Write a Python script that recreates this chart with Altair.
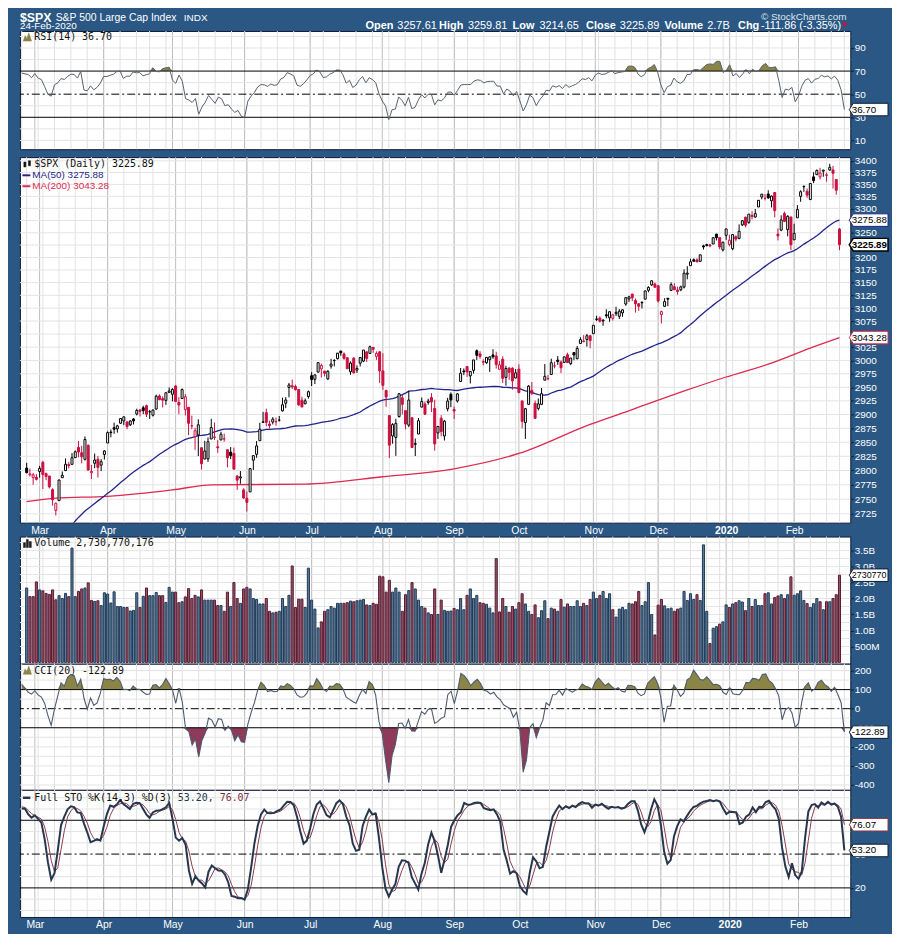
import altair as alt
import numpy as np
import pandas as pd

# ---------------- data ----------------
# closes before the visible window (3 Dec 2018 - 24 Jan 2019): warm-up for MA(50) / RSI
early_close = [2790.37, 2700.06, 2695.95, 2633.08, 2637.72, 2636.78, 2651.07, 2650.54, 2599.95, 2545.94,
               2546.16, 2506.96, 2467.42, 2416.62, 2351.10, 2467.70, 2488.83, 2485.74, 2506.85,
               2510.03, 2447.89, 2531.94, 2549.69, 2574.41, 2584.96, 2596.64, 2596.26, 2582.61, 2610.30,
               2616.10, 2635.96, 2670.71, 2632.90, 2638.70, 2642.33]
# 25 Jan - 22 Feb 2019: warm-up for CCI / STO
pre_high = [2672.4, 2644.9, 2650.9, 2690.4, 2708.9, 2716.7, 2724.99, 2738.98, 2738.1, 2719.3,
            2708.1, 2718.1, 2748.2, 2761.9, 2757.9, 2775.7, 2787.3, 2789.9, 2785.4, 2794.2]
pre_low = [2657.3, 2624.1, 2631.1, 2648.3, 2678.7, 2696.9, 2698.8, 2724.0, 2724.2, 2687.3,
           2681.8, 2703.9, 2722.6, 2748.6, 2731.2, 2760.2, 2767.3, 2774.1, 2767.8, 2779.1]
pre_close = [2664.76, 2643.85, 2640.00, 2681.05, 2704.10, 2706.53, 2724.87, 2737.70, 2731.61, 2706.05,
             2707.88, 2709.80, 2744.73, 2753.03, 2745.73, 2775.60, 2779.76, 2784.70, 2774.88, 2792.67]

# visible window: 25 Feb 2019 - 24 Feb 2020 (252 sessions)
opens = [
    2804.35, 2792.36, 2787.50, 2788.11,
    2798.22, 2814.37, 2794.41, 2790.27, 2766.53, 2730.79, 2747.61, 2787.34, 2799.78, 2810.38, 2810.79, 2822.61, 2840.76, 2831.34, 2819.72, 2844.52, 2796.01, 2812.66, 2819.72, 2809.40, 2828.27,
    2848.63, 2868.24, 2876.09, 2873.99, 2884.16, 2888.46, 2886.58, 2881.37, 2891.92, 2900.86, 2908.32, 2912.26, 2916.04, 2904.81, 2898.78, 2909.99, 2934.00, 2928.99, 2925.81, 2940.58, 2937.14,
    2952.33, 2922.16, 2929.21, 2908.89, 2913.03, 2879.61, 2859.84, 2863.10, 2840.19, 2820.12, 2820.38, 2855.80, 2858.60, 2841.94, 2854.02, 2856.06, 2836.70, 2832.41, 2830.03, 2790.25, 2786.94, 2766.15,
    2751.53, 2762.64, 2818.09, 2828.51, 2852.87, 2885.83, 2903.27, 2882.73, 2886.24, 2886.82, 2889.75, 2906.71, 2920.55, 2949.60, 2952.71, 2951.42, 2945.78, 2926.07, 2919.66, 2932.94,
    2971.41, 2964.66, 2978.08, 2984.25, 2979.77, 2965.52, 2989.30, 2999.62, 3003.36, 3017.80, 3012.13, 3005.10, 2978.87, 3004.26, 2981.93, 2994.74, 2998.77, 3016.26, 3013.25, 3024.47, 3007.66, 3016.22,
    2980.32, 2943.90, 2898.07, 2861.18, 2858.65, 2896.21, 2930.51, 2907.07, 2880.72, 2894.15, 2846.20, 2864.74, 2913.48, 2919.01, 2922.04, 2930.94, 2911.07, 2866.70, 2893.14, 2861.28, 2910.37, 2937.09,
    2909.01, 2924.67, 2960.60, 2980.33, 2988.43, 2971.01, 2981.41, 3018.21, 3012.21, 2996.41, 2995.67, 3001.50, 3010.36, 3008.42, 2983.50, 3002.43, 2968.35, 2985.73, 2985.47, 2967.07,
    2983.69, 2924.78, 2885.38, 2918.56, 2944.23, 2920.40, 2911.10, 2918.55, 2963.07, 2965.81, 2973.61, 2989.68, 3000.77, 2996.84, 2996.48, 3010.73, 2994.01, 3014.78, 3003.32, 3032.12, 3035.39, 3039.74, 3046.90,
    3050.72, 3078.96, 3080.80, 3075.10, 3087.02, 3081.25, 3080.33, 3089.28, 3084.18, 3090.75, 3107.92, 3117.91, 3127.45, 3114.66, 3108.49, 3111.41, 3117.44, 3134.85, 3145.49, 3147.18,
    3143.85, 3087.41, 3103.50, 3119.21, 3134.62, 3141.86, 3135.36, 3135.75, 3141.23, 3166.65, 3183.63, 3195.40, 3195.21, 3192.32, 3223.33, 3226.05, 3225.45, 3227.20, 3247.23, 3240.09, 3215.18,
    3244.67, 3226.36, 3217.55, 3241.86, 3238.59, 3266.03, 3281.81, 3271.13, 3285.35, 3282.27, 3302.97, 3323.66, 3321.03, 3330.02, 3315.77, 3333.10, 3247.16, 3255.35, 3289.46, 3256.45, 3282.33,
    3235.66, 3280.61, 3324.91, 3344.92, 3335.54, 3318.28, 3365.87, 3370.50, 3365.90, 3378.08, 3369.04, 3380.39, 3380.45, 3360.50, 3257.61]
highs = [
    2813.49, 2803.12, 2795.76, 2793.73,
    2808.02, 2816.88, 2796.44, 2790.27, 2768.98, 2744.13, 2784.00, 2798.32, 2821.24, 2815.00, 2830.73, 2835.41, 2852.42, 2843.54, 2860.31, 2846.16, 2809.79, 2829.87, 2825.56, 2819.71, 2836.03,
    2869.40, 2872.90, 2885.25, 2881.28, 2893.24, 2895.95, 2886.88, 2889.71, 2893.42, 2910.54, 2909.60, 2916.06, 2918.00, 2908.40, 2909.51, 2936.31, 2936.83, 2933.10, 2939.88, 2949.52, 2948.22,
    2954.13, 2931.68, 2947.85, 2937.32, 2913.03, 2897.96, 2875.97, 2891.31, 2840.19, 2852.54, 2858.68, 2892.15, 2885.48, 2853.86, 2868.88, 2865.47, 2836.70, 2841.36, 2840.51, 2792.03, 2799.00, 2768.98,
    2763.07, 2804.49, 2827.28, 2852.10, 2884.97, 2904.77, 2910.61, 2888.57, 2895.24, 2894.45, 2897.27, 2930.79, 2931.74, 2958.06, 2964.15, 2954.92, 2946.52, 2932.59, 2929.30, 2943.98,
    2977.93, 2973.21, 2995.84, 2994.03, 2980.76, 2981.90, 3002.98, 3002.33, 3013.92, 3017.80, 3015.02, 3005.26, 2998.28, 3006.02, 2990.71, 3005.90, 3019.59, 3016.31, 3027.98, 3025.61, 3017.19, 3017.40,
    3013.59, 2945.50, 2898.07, 2884.40, 2892.17, 2938.72, 2935.75, 2907.58, 2943.31, 2894.15, 2856.67, 2893.63, 2931.00, 2923.63, 2928.73, 2939.08, 2927.01, 2879.27, 2898.79, 2890.03, 2930.50, 2940.43,
    2914.39, 2938.84, 2985.86, 2985.03, 2989.43, 2979.39, 3000.93, 3020.74, 3017.33, 3002.19, 3006.21, 3007.83, 3021.19, 3016.37, 2999.15, 3007.98, 2989.82, 2987.28, 2987.31, 2983.85,
    2992.53, 2924.78, 2911.13, 2953.74, 2959.75, 2925.47, 2929.32, 2948.46, 2993.28, 2972.84, 3003.28, 2997.54, 3008.29, 3000.00, 3007.33, 3014.57, 3004.78, 3016.07, 3027.39, 3044.08, 3047.87, 3050.10, 3046.90,
    3066.95, 3085.20, 3083.95, 3078.34, 3097.77, 3093.09, 3088.33, 3102.61, 3098.06, 3098.20, 3120.46, 3124.17, 3127.64, 3118.97, 3110.11, 3112.87, 3133.83, 3142.69, 3154.26, 3150.30,
    3144.31, 3094.97, 3119.38, 3119.45, 3150.60, 3148.87, 3142.12, 3143.98, 3176.28, 3182.68, 3197.71, 3198.22, 3198.48, 3205.48, 3225.65, 3227.78, 3226.43, 3240.08, 3247.93, 3240.92, 3231.72,
    3258.14, 3246.15, 3246.84, 3244.91, 3267.07, 3275.58, 3282.99, 3288.13, 3294.25, 3298.66, 3317.11, 3329.88, 3329.79, 3337.77, 3326.88, 3333.18, 3258.85, 3285.78, 3293.47, 3285.91, 3282.33,
    3268.44, 3306.92, 3337.58, 3347.96, 3341.42, 3352.26, 3375.63, 3381.47, 3385.09, 3380.69, 3375.01, 3393.52, 3389.15, 3360.76, 3259.81]
lows = [
    2794.99, 2789.47, 2775.13, 2782.51,
    2787.38, 2767.66, 2782.97, 2768.69, 2739.09, 2722.27, 2747.61, 2786.73, 2799.78, 2803.46, 2810.79, 2821.99, 2823.27, 2812.43, 2817.38, 2800.47, 2785.02, 2803.99, 2787.72, 2798.77, 2819.23,
    2848.63, 2858.75, 2865.17, 2867.14, 2882.99, 2880.78, 2873.33, 2879.13, 2881.99, 2898.37, 2896.48, 2900.71, 2895.45, 2891.90, 2896.35, 2908.53, 2926.05, 2912.84, 2917.56, 2939.35, 2924.11,
    2923.36, 2900.50, 2929.21, 2898.21, 2862.60, 2873.28, 2836.40, 2825.39, 2801.43, 2820.12, 2815.08, 2855.80, 2854.23, 2831.29, 2854.02, 2851.11, 2805.49, 2820.19, 2801.58, 2766.06, 2776.74, 2750.52,
    2728.81, 2762.64, 2800.92, 2822.45, 2852.87, 2885.51, 2878.53, 2874.68, 2881.99, 2879.62, 2887.30, 2905.44, 2911.43, 2931.50, 2946.87, 2944.05, 2916.01, 2912.99, 2918.57, 2929.05,
    2952.22, 2955.92, 2977.96, 2967.97, 2970.09, 2963.44, 2984.62, 2988.80, 3001.87, 3008.77, 3001.15, 2984.25, 2973.09, 2975.86, 2976.65, 2988.56, 2996.82, 2997.24, 3012.59, 3014.30, 3000.94, 2958.08,
    2945.23, 2914.11, 2822.12, 2847.42, 2825.71, 2894.47, 2900.15, 2873.14, 2877.05, 2839.64, 2825.51, 2864.74, 2913.48, 2899.60, 2917.91, 2904.51, 2834.97, 2856.00, 2860.59, 2853.05, 2905.67, 2913.32,
    2891.85, 2921.86, 2960.60, 2972.51, 2969.39, 2957.01, 2975.31, 3000.92, 3002.90, 2990.67, 2993.73, 2978.57, 3003.16, 2984.68, 2982.23, 2957.73, 2952.86, 2963.71, 2945.53, 2967.07,
    2938.70, 2874.93, 2855.94, 2918.56, 2935.68, 2892.66, 2907.41, 2917.12, 2963.07, 2962.94, 2973.61, 2985.20, 2991.79, 2976.31, 2995.35, 2995.04, 2991.21, 3000.42, 3001.94, 3032.12, 3034.81, 3025.96, 3023.19,
    3050.72, 3074.87, 3072.15, 3065.89, 3080.23, 3073.58, 3075.82, 3084.73, 3078.80, 3083.26, 3104.60, 3112.06, 3113.47, 3091.41, 3094.55, 3099.26, 3117.44, 3131.00, 3143.41, 3139.34,
    3110.78, 3070.33, 3102.53, 3103.76, 3134.62, 3135.46, 3126.09, 3133.21, 3138.47, 3156.51, 3183.63, 3191.03, 3191.14, 3192.32, 3216.03, 3222.30, 3220.51, 3227.20, 3234.37, 3216.57, 3212.03,
    3235.53, 3222.34, 3214.64, 3232.43, 3236.67, 3263.67, 3260.86, 3268.43, 3277.19, 3280.69, 3302.82, 3318.86, 3316.61, 3320.04, 3301.87, 3281.53, 3234.50, 3253.22, 3271.89, 3242.80, 3214.68,
    3235.66, 3280.61, 3313.75, 3334.39, 3322.12, 3317.77, 3352.72, 3369.72, 3360.52, 3366.15, 3355.61, 3378.83, 3341.02, 3328.45, 3214.65]
closes = [
    2796.11, 2793.90, 2792.38, 2784.49,
    2803.69, 2792.81, 2789.65, 2771.45, 2748.93, 2743.07, 2783.30, 2791.52, 2810.92, 2808.48, 2822.48, 2832.94, 2832.57, 2824.23, 2854.88, 2800.71, 2798.36, 2818.46, 2805.37, 2815.44, 2834.40,
    2867.19, 2867.24, 2873.40, 2879.39, 2892.74, 2895.77, 2878.20, 2888.21, 2888.32, 2907.41, 2905.58, 2907.06, 2900.45, 2905.03, 2907.97, 2933.68, 2927.25, 2926.17, 2939.88, 2943.03, 2945.83,
    2923.73, 2917.52, 2945.64, 2932.47, 2884.05, 2879.42, 2870.72, 2881.40, 2811.87, 2834.41, 2850.96, 2876.32, 2859.53, 2840.23, 2864.36, 2856.27, 2822.24, 2826.06, 2802.39, 2783.02, 2788.86, 2752.06,
    2744.45, 2803.27, 2826.15, 2843.49, 2873.34, 2886.73, 2885.72, 2879.84, 2891.64, 2886.98, 2889.67, 2917.75, 2926.46, 2954.18, 2950.46, 2945.35, 2917.38, 2913.78, 2924.92, 2941.76,
    2964.33, 2973.01, 2995.82, 2990.41, 2975.95, 2979.63, 2993.07, 2999.91, 3013.77, 3014.30, 3004.04, 2984.42, 2995.11, 2976.61, 2985.03, 3005.47, 3019.56, 3003.67, 3025.86, 3020.97, 3013.18, 2980.38,
    2953.56, 2932.05, 2844.74, 2881.77, 2883.98, 2938.09, 2918.65, 2882.70, 2926.32, 2840.60, 2847.60, 2888.68, 2923.65, 2900.51, 2924.43, 2922.95, 2847.11, 2878.38, 2869.16, 2887.94, 2924.58, 2926.46,
    2906.27, 2937.78, 2976.00, 2978.71, 2978.43, 2979.39, 3000.93, 3009.57, 3007.39, 2997.96, 3005.70, 3006.73, 3006.79, 2992.07, 2991.78, 2966.60, 2984.87, 2977.62, 2961.79, 2976.74,
    2940.25, 2887.61, 2910.63, 2952.01, 2938.79, 2893.06, 2919.40, 2938.13, 2970.27, 2966.15, 2995.68, 2989.69, 2997.95, 2986.20, 3006.72, 2995.99, 3004.52, 3010.29, 3022.55, 3039.42, 3036.89, 3046.77, 3037.56,
    3066.91, 3078.27, 3074.62, 3076.78, 3085.18, 3093.08, 3087.01, 3091.84, 3094.04, 3096.63, 3120.46, 3122.03, 3120.18, 3108.46, 3103.54, 3110.29, 3133.64, 3140.52, 3153.63, 3140.98,
    3113.87, 3093.20, 3112.76, 3117.43, 3145.91, 3135.96, 3132.52, 3141.63, 3168.57, 3168.80, 3191.45, 3192.52, 3191.14, 3205.37, 3221.22, 3224.01, 3223.38, 3239.91, 3240.02, 3221.29, 3230.78,
    3257.85, 3234.85, 3246.28, 3237.18, 3253.05, 3274.70, 3265.35, 3288.13, 3283.15, 3289.29, 3316.81, 3329.62, 3320.79, 3321.75, 3325.54, 3295.47, 3243.63, 3276.24, 3273.40, 3283.66, 3225.52,
    3248.92, 3297.59, 3334.69, 3345.78, 3327.71, 3352.09, 3357.75, 3379.45, 3373.94, 3380.16, 3370.29, 3386.15, 3373.23, 3337.75, 3225.89]
# volume in billions of shares
volumes_b = [
    2.33, 2.06, 2.06, 2.52, 2.27, 2.24, 2.16, 2.13, 2.27, 1.96,
    2.09, 2.00, 2.16, 2.06, 3.58, 2.06, 2.22, 2.30, 2.33, 2.49,
    1.94, 1.91, 1.93, 1.78, 2.18, 2.14, 1.86, 2.21, 1.75, 1.75,
    1.72, 1.72, 1.61, 1.63, 2.18, 1.72, 2.07, 2.33, 2.09, 2.09,
    2.19, 2.09, 2.09, 1.88, 2.35, 2.20, 2.20, 1.87, 1.90, 2.05,
    2.31, 2.00, 2.10, 2.05, 2.27, 1.95, 1.95, 1.95, 1.95, 1.78,
    1.78, 1.60, 2.20, 1.75, 2.50, 2.00, 1.85, 2.30, 2.35, 2.30,
    2.00, 1.97, 1.83, 1.83, 2.00, 1.60, 1.55, 1.57, 1.60, 2.00,
    1.75, 2.10, 3.02, 1.72, 1.98, 1.98, 1.72, 2.95, 1.95, 1.67,
    1.08, 1.27, 1.60, 1.65, 1.75, 1.70, 1.85, 1.85, 1.85, 1.87,
    1.92, 1.90, 1.93, 1.95, 1.97, 1.80, 1.78, 1.85, 1.82, 2.70,
    2.68, 2.20, 2.57, 2.20, 2.33, 2.20, 1.60, 2.12, 2.25, 2.50,
    2.30, 1.95, 1.75, 1.70, 1.55, 1.50, 2.30, 1.50, 1.95, 1.63,
    1.60, 1.61, 1.69, 1.65, 2.00, 1.65, 2.10, 2.30, 2.00, 2.10,
    1.87, 1.85, 1.82, 1.70, 1.55, 3.25, 1.58, 2.00, 1.75, 1.57,
    1.75, 1.67, 1.87, 2.15, 1.83, 1.60, 1.50, 1.80, 1.40, 1.62,
    1.93, 1.37, 1.70, 1.67, 1.60, 1.97, 1.73, 1.83, 1.75, 1.75,
    1.93, 1.75, 1.85, 1.78, 1.97, 2.20, 2.00, 2.10, 2.22, 2.00,
    2.15, 1.65, 1.42, 1.67, 1.72, 1.65, 1.85, 1.83, 1.90, 2.22,
    1.78, 1.90, 2.50, 1.50, 0.86, 1.79, 1.97, 1.77, 1.68, 1.70,
    1.60, 1.67, 1.70, 2.22, 1.94, 2.15, 1.97, 2.12, 1.94, 3.68,
    1.60, 0.59, 1.07, 1.12, 1.20, 1.27, 1.80, 1.72, 1.83, 1.87,
    1.93, 1.89, 1.62, 2.00, 1.75, 1.97, 1.78, 1.78, 2.15, 2.18,
    1.83, 2.03, 2.08, 2.12, 2.00, 2.12, 2.68, 2.10, 2.15, 2.24,
    1.94, 1.84, 1.72, 1.84, 2.00, 1.90, 1.65, 1.90, 1.90, 2.00,
    2.12, 2.730770176]
# 200-day moving average (session index, value)
ma200_idx = [0, 9, 25, 45, 57, 86, 110, 132, 152, 174, 187, 204, 216, 229, 244, 251]
ma200_val = [2746, 2752, 2755, 2766, 2775, 2776, 2789, 2803, 2830, 2882, 2909, 2945, 2969, 2993, 3028, 3043.28]
# calendar helpers (session index of first session of each month / week)
month_idx = [4, 25, 46, 68, 88, 110, 132, 152, 175, 195, 216, 237]
month_lbl = ["Mar", "Apr", "May", "Jun", "Jul", "Aug", "Sep", "Oct", "Nov", "Dec", "2020", "Feb"]
week_idx = [0, 5, 10, 15, 20, 25, 30, 35, 39, 44, 49, 54, 59, 64, 68, 73, 78, 83, 88, 92, 97, 102, 107,
            112, 117, 122, 127, 132, 136, 141, 146, 151, 156, 161, 166, 171, 176, 181, 186, 191, 195,
            200, 205, 210, 214, 218, 223, 228, 232, 237, 242, 247, 251]

n = len(closes)
assert len(opens) == n and len(highs) == n and len(lows) == n and len(volumes_b) == n == 252

# ---------------- derived columns ----------------
c_all = np.array(early_close + pre_close + closes, dtype=float)
ma50 = pd.Series(c_all).rolling(50).mean().values[-n:]

d = np.diff(c_all)
g = np.where(d > 0, d, 0.0)
l = np.where(d < 0, -d, 0.0)
ag, al = g[:14].mean(), l[:14].mean()
rsi_full = np.full(len(c_all), np.nan)
rsi_full[14] = 100 - 100 / (1 + ag / al)
for k in range(14, len(d)):
    ag = (ag * 13 + g[k]) / 14
    al = (al * 13 + l[k]) / 14
    rsi_full[k + 1] = 100 - 100 / (1 + ag / al)
rsi = rsi_full[-n:]

H = pd.Series(pre_high + highs, dtype=float)
L = pd.Series(pre_low + lows, dtype=float)
C = pd.Series(pre_close + closes, dtype=float)
tp = (H + L + C) / 3
sma_tp = tp.rolling(20).mean()
md = tp.rolling(20).apply(lambda x: np.mean(np.abs(x - x.mean())), raw=True)
cci = ((tp - sma_tp) / (0.015 * md)).values[-n:]
ll = L.rolling(14).min()
hh = H.rolling(14).max()
fast_k = 100 * (C - ll) / (hh - ll)
full_k = fast_k.rolling(3).mean()
full_d = full_k.rolling(3).mean()
sto_k = full_k.values[-n:]
sto_d = full_d.values[-n:]

RED = "#cc1040"
BLACK = "#000000"
prev = np.array([pre_close[-1]] + closes[:-1])
cl = np.array(closes)
op = np.array(opens)
down = cl < prev
df = pd.DataFrame({
    "i": np.arange(n), "open": opens, "high": highs, "low": lows, "close": closes,
    "vol": volumes_b, "zero": 0.0, "ma50": ma50, "rsi": rsi, "cci": cci, "k": sto_k, "d": sto_d,
})
df["col"] = np.where(down, RED, BLACK)
df["fillc"] = np.where(cl < op, df["col"], "#ffffff")
df["vfill"] = np.where(down, "#8f5566", "#5c7791")
df["vstroke"] = np.where(down, "#5c1a32", "#1f3b5b")
df["rsi_hi"] = np.maximum(df["rsi"], 70)
df["b70"] = 70.0
df["cci_hi"] = np.maximum(df["cci"], 100)
df["b100"] = 100.0
df["cci_lo"] = np.minimum(df["cci"], -100)
df["bm100"] = -100.0

ma200_df = pd.DataFrame({"i": ma200_idx, "v": ma200_val})
week_df = pd.DataFrame({"i": week_idx})
month_df = pd.DataFrame({"i": month_idx})

# ---------------- style / layout ----------------
BG = "#2a5783"
BORDER = "#0d1b36"
GRID_W = "#e2e2e2"
GRID_M = "#bdbdbd"
GRID_H = "#e4e4e4"
OLIVE = "#8b8447"
MAROON = "#8e3a5a"
MA50C = "#22248c"
MA200C = "#dc2a50"
SANS = "Liberation Sans"
MONO = "DejaVu Sans Mono"
W = 836
BOXW = 39
H_HDR, H_RSI, GAP1, H_PRICE, GAP2, H_VOL, H_CCI, H_STO = 19, 119, 8, 368, 14, 128, 127, 128
DASH = [8, 3, 2, 3]
CLEAR = alt.ViewBackground(fill="transparent", stroke="transparent")

XS = alt.Scale(domain=[-0.55, 252.8], nice=False, zero=False)
month_expr = ("[" + ",".join("'%s'" % m for m in month_lbl) + "][indexof([" +
              ",".join(str(v) for v in month_idx) + "], datum.value)]")
X_MONTH = alt.Axis(values=month_idx, labelExpr=month_expr, title=None, grid=False, domain=False,
                   ticks=False, labelColor="white", labelFont=SANS, labelFontSize=10.5, labelPadding=3,
                   labelAngle=0, labelOverlap=False, labelFlush=False,
                   labelFontWeight=alt.condition("datum.value == 216", alt.value("bold"), alt.value("normal")))


def ax_right(values, expr="'' + datum.value"):
    return alt.Axis(orient="right", values=values, labelExpr=expr, title=None, grid=False, domain=False,
                    ticks=True, tickSize=3, tickColor=BORDER, labelColor="white", labelFont=SANS,
                    labelFontSize=10, labelPadding=1, labelOverlap=False, labelFlush=False,
                    labelBaseline="middle")


def xq(axis):
    return alt.X("i:Q", scale=XS, axis=axis)


def grid_layers(xaxis, ysc, yax, hvals):
    return [
        alt.Chart(week_df).mark_rule(color=GRID_W, strokeWidth=1).encode(x=xq(xaxis)),
        alt.Chart(month_df).mark_rule(color=GRID_M, strokeWidth=1).encode(x=xq(xaxis)),
        alt.Chart(pd.DataFrame({"g": hvals})).mark_rule(color=GRID_H, strokeWidth=1).encode(
            y=alt.Y("g:Q", scale=ysc, axis=yax)),
    ]


def hlines(vals, ysc, yax, dash=False):
    kw = dict(color="#000000", strokeWidth=1)
    if dash:
        kw["strokeDash"] = DASH
    return alt.Chart(pd.DataFrame({"g": vals})).mark_rule(**kw).encode(y=alt.Y("g:Q", scale=ysc, axis=yax))


def ltext(s, x, y, color="#111111", font=MONO, size=10, weight="normal", baseline="middle"):
    return alt.Chart(pd.DataFrame({"t": [s]})).mark_text(
        align="left", baseline=baseline, font=font, fontSize=size, fontWeight=weight, color=color
    ).encode(x=alt.value(x), y=alt.value(y), text="t:N")


def icon(path, x, y, size, color):
    return alt.Chart(pd.DataFrame({"a": [0]})).mark_point(
        shape=path, size=size, filled=True, fill=color, stroke=color, strokeWidth=0.5, opacity=1
    ).encode(x=alt.value(x), y=alt.value(y))


def seg(x1, x2, y, color, width=2):
    return alt.Chart(pd.DataFrame({"a": [0]})).mark_rule(color=color, strokeWidth=width).encode(
        x=alt.value(x1), x2=alt.value(x2), y=alt.value(y))


def value_box(v, label, ysc, yax, border, w=BOXW, bold=False, fs=9.8, tcolor="#000000"):
    s = w / 2.0
    hh_ = 6.3 / s
    tip = 4.0 / s
    path = "M-1,0L%.4f,%.4fL1,%.4fL1,%.4fL%.4f,%.4fZ" % (-1 + tip, -hh_, -hh_, hh_, -1 + tip, hh_)
    dd = pd.DataFrame({"v": [v], "t": [label]})
    b = alt.Chart(dd).mark_point(shape=path, size=w * w, filled=True, fill="white", stroke=border,
                                 strokeWidth=1.5 if bold else 1, opacity=1).encode(
        x=alt.value(W - 1 + s), y=alt.Y("v:Q", scale=ysc, axis=yax))
    t = alt.Chart(dd).mark_text(align="left", baseline="middle", font=SANS, fontSize=fs,
                                fontWeight="bold" if bold else "normal", color=tcolor).encode(
        x=alt.value(W + 1.5), y=alt.Y("v:Q", scale=ysc, axis=yax), text="t:N")
    return [b, t]


MOUNTAIN = "M-1,1L-0.55,-0.3L-0.15,0.35L0.35,-1L1,1Z"
BARS = "M-1,1L-1,-0.2L-0.45,-0.2L-0.45,1Z M-0.25,1L-0.25,-1L0.25,-1L0.25,1Z M0.45,1L0.45,-0.5L1,-0.5L1,1Z"
CANDLES = "M-0.85,-0.5L-0.35,-0.5L-0.35,0.7L-0.85,0.7Z M0.25,-0.8L0.75,-0.8L0.75,0.4L0.25,0.4Z"

# ---------------- page header ----------------
hdr_title = "$SPX"
hdr_name = "S&P 500 Large Cap Index"
hdr_exch = "INDX"
hdr_date = "24-Feb-2020"
hdr_copy = "\u00a9 StockCharts.com"
hdr_pieces = [("Open", True, 348), ("3257.61", False, 380), ("High", True, 422), ("3259.81", False, 451),
              ("Low", True, 496), ("3214.65", False, 523), ("Close", True, 570), ("3225.89", False, 604),
              ("Volume", True, 649), ("2.7B", False, 692), ("Chg", True, 723),
              ("-111.86 (-3.35%)", False, 746)]
hdr_layers = [
    ltext(hdr_title, 0, 0.3, color="white", font=SANS, size=12.5, weight="bold", baseline="top"),
    ltext(hdr_name, 36, 0.8, color="white", font=SANS, size=10.5, baseline="top"),
    ltext(hdr_exch, 165, 1.3, color="white", font=SANS, size=10, baseline="top"),
    ltext(hdr_date, 0, 17, color="white", font=SANS, size=10, baseline="alphabetic"),
    ltext(hdr_copy, 746, 0.3, color="#dfe6ee", font=SANS, size=10, baseline="top"),
]
for txt, bold, px in hdr_pieces:
    hdr_layers.append(ltext(txt, px, 17, color="white", font=SANS, size=11,
                            weight="bold" if bold else "normal", baseline="alphabetic"))
hdr_layers.append(alt.Chart(pd.DataFrame({"a": [0]})).mark_point(
    shape="triangle-down", size=28, filled=True, fill="#d0103a", opacity=1).encode(
    x=alt.value(830.5), y=alt.value(13)))
hdr_panel = alt.layer(*hdr_layers).properties(width=W, height=H_HDR, view=CLEAR)

# ---------------- RSI panel ----------------
R_SC = alt.Scale(domain=[2.4, 104.7], nice=False, zero=False)
R_AX = ax_right([10, 30, 50, 70, 90])
rsi_layers = grid_layers(None, R_SC, R_AX, [10, 20, 40, 60, 80, 90, 100])
rsi_layers += [
    alt.Chart(df).mark_area(color=OLIVE, opacity=1).encode(
        x=xq(None), y=alt.Y("rsi_hi:Q", scale=R_SC, axis=R_AX), y2="b70:Q"),
    hlines([30, 70], R_SC, R_AX),
    hlines([50], R_SC, R_AX, dash=True),
    alt.Chart(df).mark_line(color="#56616f", strokeWidth=1).encode(
        x=xq(None), y=alt.Y("rsi:Q", scale=R_SC, axis=R_AX)),
    icon(MOUNTAIN, 7.5, 6, 70, OLIVE),
    ltext("RSI(14) 36.70", 14.5, 6.5),
]
rsi_layers += value_box(36.70, "36.70", R_SC, R_AX, BORDER)
rsi_panel = alt.layer(*rsi_layers).properties(width=W, height=H_RSI)

# ---------------- price panel ----------------
P_SC = alt.Scale(type="log", domain=[2709.9, 3407.8], nice=False, zero=False)
p_ticks = list(range(2725, 3401, 25))
P_AX = ax_right(p_ticks)
price_layers = grid_layers(X_MONTH, P_SC, P_AX, p_ticks)
price_layers += [
    alt.Chart(ma200_df).mark_line(color=MA200C, strokeWidth=1.3, clip=True, interpolate="monotone").encode(
        x=xq(X_MONTH), y=alt.Y("v:Q", scale=P_SC, axis=P_AX)),
    alt.Chart(df).mark_line(color=MA50C, strokeWidth=1.3, clip=True).encode(
        x=xq(X_MONTH), y=alt.Y("ma50:Q", scale=P_SC, axis=P_AX)),
    alt.Chart(df).mark_rule(strokeWidth=1).encode(
        x=xq(X_MONTH), y=alt.Y("low:Q", scale=P_SC, axis=P_AX), y2="high:Q",
        color=alt.Color("col:N", scale=None)),
    alt.Chart(df).mark_bar(width=2, strokeWidth=1).encode(
        x=xq(X_MONTH), y=alt.Y("open:Q", scale=P_SC, axis=P_AX), y2="close:Q",
        fill=alt.Fill("fillc:N", scale=None), stroke=alt.Stroke("col:N", scale=None)),
    icon(CANDLES, 7.5, 7, 70, "#111111"),
    ltext("$SPX (Daily) 3225.89", 14.5, 7.3),
    seg(2.5, 10.5, 18.3, MA50C),
    ltext("MA(50) 3275.88", 12.5, 18.5, color=MA50C, font=SANS, size=10),
    seg(2.5, 10.5, 29.3, MA200C),
    ltext("MA(200) 3043.28", 12.5, 29.5, color=MA200C, font=SANS, size=10),
]
price_layers += value_box(3275.88, "3275.88", P_SC, P_AX, MA50C)
price_layers += value_box(3043.28, "3043.28", P_SC, P_AX, MA200C)
price_layers += value_box(3225.89, "3225.89", P_SC, P_AX, BLACK, bold=True, fs=9.8)
price_panel = alt.layer(*price_layers).properties(width=W, height=H_PRICE)

# ---------------- volume panel ----------------
V_SC = alt.Scale(domain=[-0.04, 3.94], nice=False, zero=False)
V_AX = ax_right([0.5, 1, 1.5, 2, 2.5, 3, 3.5],
                expr="datum.value == 0.5 ? '500M' : format(datum.value, '.1f') + 'B'")
vol_layers = grid_layers(None, V_SC, V_AX, [0.25 * k for k in range(1, 16)])
vol_layers += [
    alt.Chart(df).mark_bar(width=2.1, strokeWidth=1).encode(
        x=xq(None), y=alt.Y("vol:Q", scale=V_SC, axis=V_AX), y2="zero:Q",
        fill=alt.Fill("vfill:N", scale=None), stroke=alt.Stroke("vstroke:N", scale=None)),
    icon(BARS, 7.5, 7, 64, "#222222"),
    ltext("Volume 2,730,770,176", 14.5, 7),
]
vol_layers += value_box(2.730770176, "2730770", V_SC, V_AX, BORDER, fs=9)
vol_panel = alt.layer(*vol_layers).properties(width=W, height=H_VOL)

# ---------------- CCI panel ----------------
C_SC = alt.Scale(domain=[-425.6, 235.9], nice=False, zero=False)
C_AX = ax_right([-400, -300, -200, -100, 0, 100, 200])
cci_layers = grid_layers(None, C_SC, C_AX, [-400, -350, -300, -250, -200, -150, -50, 50, 150, 200])
cci_layers += [
    alt.Chart(df).mark_area(color=OLIVE, opacity=1).encode(
        x=xq(None), y=alt.Y("cci_hi:Q", scale=C_SC, axis=C_AX), y2="b100:Q"),
    alt.Chart(df).mark_area(color=MAROON, opacity=1).encode(
        x=xq(None), y=alt.Y("cci_lo:Q", scale=C_SC, axis=C_AX), y2="bm100:Q"),
    hlines([-100, 100], C_SC, C_AX),
    hlines([0], C_SC, C_AX, dash=True),
    alt.Chart(df).mark_line(color="#4d5b6e", strokeWidth=1.1).encode(
        x=xq(None), y=alt.Y("cci:Q", scale=C_SC, axis=C_AX)),
    icon(MOUNTAIN, 7.5, 6.5, 70, OLIVE),
    ltext("CCI(20) -122.89", 14.5, 7),
]
cci_layers += value_box(-122.89, "-122.89", C_SC, C_AX, BORDER)
cci_panel = alt.layer(*cci_layers).properties(width=W, height=H_CCI)

# ---------------- Full STO panel ----------------
S_SC = alt.Scale(domain=[-5.8, 107], nice=False, zero=False)
S_AX = ax_right([20, 50, 80])
sto_layers = grid_layers(X_MONTH, S_SC, S_AX, [0, 10, 30, 40, 60, 70, 90, 100])
CW = 6.02
sto_lbl = "Full STO %K(14,3) %D(3) "
sto_layers += [
    hlines([20, 80], S_SC, S_AX),
    hlines([50], S_SC, S_AX, dash=True),
    alt.Chart(df).mark_line(color="#8c3a4c", strokeWidth=1).encode(
        x=xq(X_MONTH), y=alt.Y("d:Q", scale=S_SC, axis=S_AX)),
    alt.Chart(df).mark_line(color="#26364d", strokeWidth=2).encode(
        x=xq(X_MONTH), y=alt.Y("k:Q", scale=S_SC, axis=S_AX)),
    seg(3, 10.5, 8, "#26364d", 2.5),
    ltext(sto_lbl, 14.5, 8),
    ltext("53.20,", 14.5 + CW * len(sto_lbl), 8, color="#26364d"),
    ltext("76.07", 14.5 + CW * (len(sto_lbl) + 7), 8, color="#7a2a40"),
]
sto_layers += value_box(76.07, "76.07", S_SC, S_AX, "#8c3a4c")
sto_layers += value_box(53.20, "53.20", S_SC, S_AX, BORDER)
sto_panel = alt.layer(*sto_layers).properties(width=W, height=H_STO)


def spacer(h):
    return alt.Chart(pd.DataFrame({"a": [0]})).mark_rule(opacity=0).encode(
        x=alt.value(0)).properties(width=W, height=h, view=CLEAR)


chart = alt.vconcat(
    hdr_panel, rsi_panel, spacer(GAP1), price_panel, spacer(GAP2), vol_panel, cci_panel, sto_panel,
    spacing=0, bounds="flush",
).properties(
    padding={"left": 9, "top": 0, "right": 0, "bottom": 0},
    background=BG,
).configure_view(
    fill="white", stroke=BORDER, strokeWidth=1,
)

chart.save("out.html", embed_options={"renderer": "svg", "actions": False})
